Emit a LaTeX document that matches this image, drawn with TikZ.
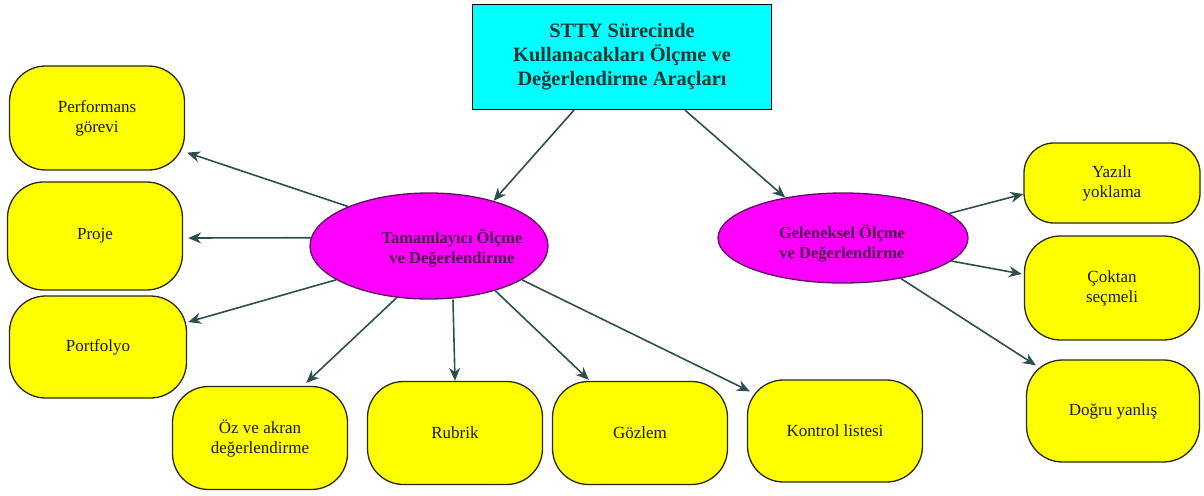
\documentclass[tikz,border=0pt]{standalone}
\usepackage{fontspec}
\setmainfont{Liberation Serif}
\usetikzlibrary{shapes.geometric,arrows.meta,calc}
\definecolor{linkcol}{HTML}{2F4F4F}
\definecolor{ovaltext}{HTML}{4A0A4E}
\definecolor{ovalline}{HTML}{5A1060}
\definecolor{titletext}{HTML}{163434}
\definecolor{headfill}{HTML}{00FFFF}
\definecolor{ovalfill}{HTML}{FF00FF}
\definecolor{boxfill}{HTML}{FFFF00}
\definecolor{boxline}{HTML}{2A2A10}
\tikzset{
  headbox/.style={draw=black, line width=1.3pt, fill=headfill, text=titletext,
    minimum width=299pt, minimum height=105pt, align=center,
    font=\fontsize{20.4}{24}\selectfont\bfseries},
  oval/.style={ellipse, draw=ovalline, line width=1.3pt, fill=ovalfill, inner sep=0pt},
  ovaltxt/.style={text=ovaltext, align=center, font=\fontsize{16.5}{20}\selectfont\bfseries},
  toolbox/.style={draw=boxline, line width=1.3pt, fill=boxfill, rounded corners=36pt,
    minimum width=175pt, minimum height=104pt, align=center,
    font=\fontsize{17}{20}\selectfont, text=black!90},
  link/.style={draw=linkcol, line width=1.6pt, -{Stealth[length=13pt,width=11pt]}}
}
\begin{document}
\begin{tikzpicture}[x=1pt,y=-1pt]
\useasboundingbox (0,0) rectangle (1204,495);
% root
\node[headbox] (root) at (622,57) {STTY Sürecinde\\Kullanacakları Ölçme ve\\Değerlendirme Araçları};
% two branches
\node[oval, minimum width=238pt, minimum height=106pt] (tam) at (429,246) {};
\node[ovaltxt] (tamtxt) at (452,248) {Tamamlayıcı Ölçme\\ve Değerlendirme};
\node[oval, minimum width=250pt, minimum height=90pt] (gel) at (843,238) {};
\node[ovaltxt] (geltxt) at (842,243) {Geleneksel Ölçme\\ve Değerlendirme};
% complementary tools
\node[toolbox] (perf) at (97,118) {Performans\\görevi};
\node[toolbox, minimum height=108pt] (proje) at (95,236) {Proje};
\node[toolbox, minimum width=177pt, minimum height=102pt] (port) at (98,347) {Portfolyo};
\node[toolbox, minimum height=103pt] (oz) at (260,438) {Öz ve akran\\değerlendirme};
\node[toolbox, minimum height=103pt] (rub) at (455,433) {Rubrik};
\node[toolbox, minimum height=103pt] (goz) at (640,433) {Gözlem};
\node[toolbox, minimum height=102pt] (kon) at (835,431) {Kontrol listesi};
% traditional tools
\node[toolbox, minimum width=176pt, minimum height=80pt, rounded corners=30pt] (yaz) at (1112,183) {Yazılı\\yoklama};
\node[toolbox, minimum height=104pt] (cok) at (1112,288) {Çoktan\\seçmeli};
\node[toolbox, minimum width=173pt, minimum height=102pt] (dog) at (1113,411) {Doğru yanlış};
% connectors
\draw[link] (root.south -| 574,0) -- (tam.35);
\draw[link] (root.south -| 685,0) -- (gel.145);
\draw[link] (tam.154) -- ($(perf.south east)+(2,-18)$);
\draw[link] (tam.176) -- ($(proje.east)+(5,2)$);
\draw[link] (tam.200) -- ($(port.east)+(1,-25)$);
\draw[link] (tam.238) -- ($(oz.north east)+(-42,-3)$);
\draw[link] (tam.south -| 453,0) -- (rub.north -| 455,0);
\draw[link] (tam.326) -- ($(goz.north west)+(37,-1)$);
\draw[link] (tam.340) -- ($(kon.north west)+(3,12)$);
\draw[link] (gel.13) -- ($(yaz.west)+(0,11)$);
\draw[link] (gel.348) -- ($(cok.west)+(-2,-14)$);
\draw[link] (gel.325) -- ($(dog.north west)+(10,6)$);
\end{tikzpicture}
\end{document}
